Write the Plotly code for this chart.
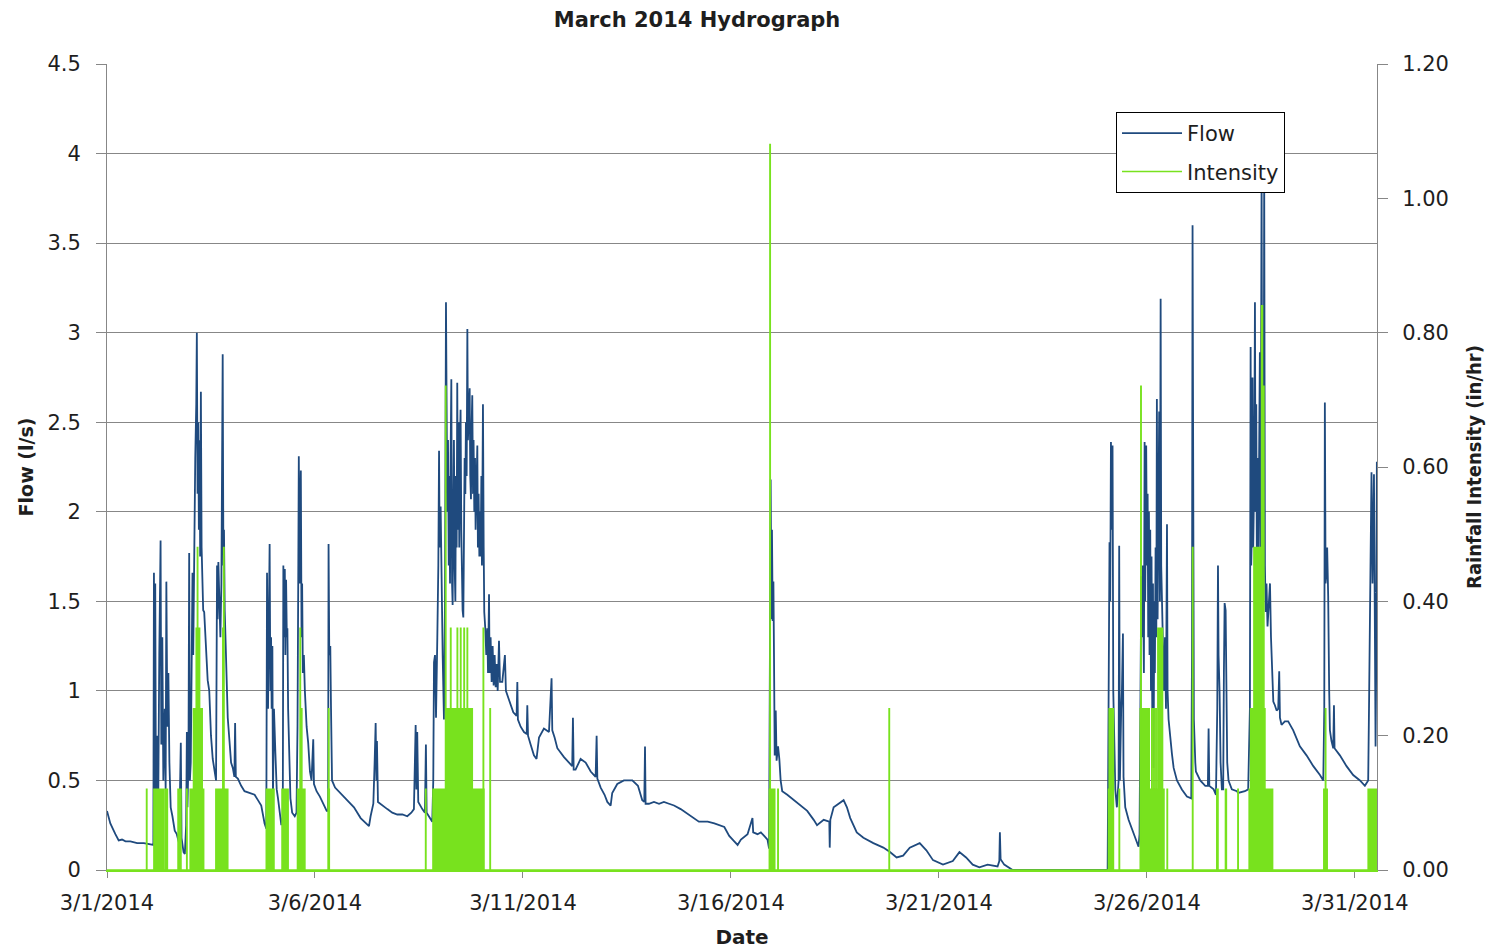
import pandas as pd
import plotly.graph_objects as go

# Flow record (l/s), March 2014
flow_time = [
    "03-01 00:00", "03-01 01:55", "03-01 04:50", "03-01 06:45", "03-01 08:40", "03-01 10:40", "03-01 13:30", "03-01 17:25",
    "03-01 21:15", "03-02 02:05", "03-02 02:45", "03-02 03:05", "03-02 03:30", "03-02 03:50", "03-02 04:15", "03-02 05:00",
    "03-02 05:35", "03-02 06:10", "03-02 06:55", "03-02 07:20", "03-02 07:55", "03-02 08:30", "03-02 09:20", "03-02 09:50",
    "03-02 10:15", "03-02 10:50", "03-02 11:25", "03-02 12:00", "03-02 12:45", "03-02 13:45", "03-02 15:05", "03-02 16:15",
    "03-02 17:35", "03-02 18:35", "03-02 19:00", "03-02 20:10", "03-02 20:55", "03-02 21:40", "03-02 22:05", "03-02 22:25",
    "03-02 23:00", "03-02 23:25", "03-02 23:50", "03-03 00:20", "03-03 00:45", "03-03 01:20", "03-03 01:45", "03-03 02:20",
    "03-03 02:55", "03-03 03:30", "03-03 03:50", "03-03 04:15", "03-03 04:40", "03-03 05:00", "03-03 05:25", "03-03 05:45",
    "03-03 06:10", "03-03 06:35", "03-03 07:10", "03-03 07:30", "03-03 08:05", "03-03 09:05", "03-03 10:05", "03-03 11:00",
    "03-03 12:00", "03-03 13:00", "03-03 13:55", "03-03 14:55", "03-03 15:30", "03-03 15:50", "03-03 16:15", "03-03 16:50",
    "03-03 17:25", "03-03 18:00", "03-03 18:20", "03-03 18:45", "03-03 19:10", "03-03 19:30", "03-03 19:55", "03-03 20:40",
    "03-03 21:40", "03-03 22:40", "03-03 23:35", "03-04 00:35", "03-04 01:30", "03-04 01:55", "03-04 02:20", "03-04 03:30",
    "03-04 05:25", "03-04 07:20", "03-04 10:15", "03-04 13:10", "03-04 15:05", "03-04 17:00", "03-04 18:55", "03-04 19:55",
    "03-04 20:20", "03-04 20:55", "03-04 21:30", "03-04 21:50", "03-04 22:15", "03-04 22:40", "03-04 23:00", "03-04 23:25",
    "03-04 23:45", "03-05 00:20", "03-05 01:10", "03-05 01:55", "03-05 02:40", "03-05 03:40", "03-05 04:35", "03-05 05:25",
    "03-05 05:45", "03-05 06:10", "03-05 06:35", "03-05 06:55", "03-05 07:20", "03-05 07:45", "03-05 08:05", "03-05 08:30",
    "03-05 09:05", "03-05 09:50", "03-05 10:50", "03-05 12:20", "03-05 13:20", "03-05 13:55", "03-05 14:20", "03-05 14:40",
    "03-05 15:05", "03-05 15:25", "03-05 15:50", "03-05 16:15", "03-05 16:35", "03-05 17:00", "03-05 17:35", "03-05 18:10",
    "03-05 19:10", "03-05 20:05", "03-05 21:05", "03-05 22:00", "03-05 23:00", "03-05 23:25", "03-06 00:55", "03-06 02:50",
    "03-06 04:50", "03-06 06:45", "03-06 07:35", "03-06 07:50", "03-06 08:15", "03-06 08:50", "03-06 09:15", "03-06 09:50",
    "03-06 11:35", "03-06 14:30", "03-06 18:40", "03-06 22:30", "03-07 02:20", "03-07 05:15", "03-07 07:10", "03-07 08:05",
    "03-07 09:40", "03-07 10:25", "03-07 11:00", "03-07 11:25", "03-07 11:45", "03-07 12:20", "03-07 14:50", "03-07 17:45",
    "03-07 20:35", "03-07 23:30", "03-08 02:25", "03-08 05:15", "03-08 07:35", "03-08 09:05", "03-08 10:05", "03-08 10:30",
    "03-08 11:00", "03-08 11:35", "03-08 13:55", "03-08 15:25", "03-08 16:00", "03-08 16:25", "03-08 18:20", "03-08 19:40",
    "03-08 20:15", "03-08 20:40", "03-08 21:15", "03-08 21:50", "03-08 22:35", "03-08 23:10", "03-08 23:35", "03-08 23:55",
    "03-09 00:30", "03-09 01:05", "03-09 01:40", "03-09 02:25", "03-09 03:00", "03-09 03:35", "03-09 04:00", "03-09 04:20",
    "03-09 04:45", "03-09 05:10", "03-09 05:30", "03-09 05:55", "03-09 06:15", "03-09 06:40", "03-09 07:05", "03-09 07:25",
    "03-09 07:50", "03-09 08:10", "03-09 08:35", "03-09 09:00", "03-09 09:20", "03-09 09:45", "03-09 10:05", "03-09 10:30",
    "03-09 10:55", "03-09 11:15", "03-09 11:40", "03-09 12:00", "03-09 12:25", "03-09 12:50", "03-09 13:10", "03-09 13:35",
    "03-09 14:00", "03-09 14:20", "03-09 14:45", "03-09 15:05", "03-09 15:30", "03-09 15:55", "03-09 16:15", "03-09 16:40",
    "03-09 17:15", "03-09 17:35", "03-09 18:00", "03-09 18:25", "03-09 18:45", "03-09 19:10", "03-09 19:30", "03-09 19:55",
    "03-09 20:20", "03-09 20:40", "03-09 21:05", "03-09 21:40", "03-09 22:00", "03-09 22:25", "03-09 22:50", "03-09 23:10",
    "03-09 23:35", "03-10 00:00", "03-10 00:20", "03-10 00:55", "03-10 01:20", "03-10 01:40", "03-10 02:15", "03-10 02:50",
    "03-10 03:25", "03-10 03:50", "03-10 04:25", "03-10 04:45", "03-10 05:20", "03-10 05:55", "03-10 06:30", "03-10 07:05",
    "03-10 07:40", "03-10 08:15", "03-10 08:50", "03-10 09:25", "03-10 10:10", "03-10 10:45", "03-10 12:05", "03-10 13:35",
    "03-10 14:10", "03-10 15:20", "03-10 16:55", "03-10 18:25", "03-10 20:20", "03-10 20:45", "03-10 21:05", "03-10 22:40",
    "03-11 00:35", "03-11 02:10", "03-11 02:30", "03-11 02:55", "03-11 04:25", "03-11 06:20", "03-11 07:50", "03-11 09:15",
    "03-11 12:05", "03-11 15:00", "03-11 16:30", "03-11 16:55", "03-11 18:15", "03-11 19:50", "03-11 23:40", "03-12 02:30",
    "03-12 04:25", "03-12 04:50", "03-12 05:15", "03-12 06:20", "03-12 09:15", "03-12 12:10", "03-12 15:05", "03-12 17:55",
    "03-12 18:30", "03-12 18:55", "03-12 20:50", "03-12 23:05", "03-13 00:40", "03-13 02:35", "03-13 03:30", "03-13 06:25",
    "03-13 10:15", "03-13 15:05", "03-13 18:20", "03-13 20:50", "03-13 22:00", "03-13 22:25", "03-13 22:45", "03-14 00:40",
    "03-14 03:35", "03-14 06:30", "03-14 09:20", "03-14 12:15", "03-14 15:10", "03-14 19:00", "03-14 21:50", "03-15 00:45",
    "03-15 05:30", "03-15 10:35", "03-15 14:25", "03-15 20:10", "03-15 23:00", "03-16 01:55", "03-16 03:50", "03-16 05:45",
    "03-16 09:35", "03-16 12:25", "03-16 12:50", "03-16 15:20", "03-16 17:15", "03-16 19:10", "03-16 21:05", "03-16 22:00",
    "03-16 22:55", "03-16 23:20", "03-16 23:40", "03-17 00:05", "03-17 00:30", "03-17 00:50", "03-17 01:15", "03-17 01:50",
    "03-17 02:20", "03-17 03:10", "03-17 03:55", "03-17 04:40", "03-17 05:35", "03-17 08:30", "03-17 12:20", "03-17 16:10",
    "03-17 20:00", "03-17 23:45", "03-18 01:40", "03-18 05:30", "03-18 08:45", "03-18 09:00", "03-18 09:20", "03-18 11:15",
    "03-18 15:05", "03-18 17:00", "03-18 18:55", "03-18 20:50", "03-19 00:35", "03-19 04:25", "03-19 10:10", "03-19 15:55",
    "03-19 19:45", "03-19 23:35", "03-20 03:20", "03-20 07:10", "03-20 12:55", "03-20 16:45", "03-20 20:35", "03-21 02:20",
    "03-21 08:00", "03-21 11:50", "03-21 15:40", "03-21 19:30", "03-21 23:20", "03-22 04:05", "03-22 09:50", "03-22 10:50",
    "03-22 11:10", "03-22 11:35", "03-22 13:40", "03-22 16:30", "03-22 18:30", "03-25 01:20", "03-25 01:30", "03-25 01:55",
    "03-25 02:25", "03-25 02:50", "03-25 03:15", "03-25 03:35", "03-25 04:10", "03-25 04:35", "03-25 05:10", "03-25 05:45",
    "03-25 06:40", "03-25 07:40", "03-25 08:00", "03-25 08:25", "03-25 09:10", "03-25 09:35", "03-25 10:10", "03-25 10:30",
    "03-25 11:30", "03-25 13:25", "03-25 15:20", "03-25 17:15", "03-25 19:10", "03-25 19:45", "03-25 20:20", "03-25 20:45",
    "03-25 21:05", "03-25 21:40", "03-25 22:15", "03-25 22:40", "03-25 23:00", "03-25 23:35", "03-26 00:00", "03-26 00:25",
    "03-26 00:45", "03-26 01:10", "03-26 01:30", "03-26 01:55", "03-26 02:20", "03-26 02:40", "03-26 03:05", "03-26 03:30",
    "03-26 03:50", "03-26 04:15", "03-26 04:35", "03-26 05:00", "03-26 05:25", "03-26 05:45", "03-26 06:10", "03-26 06:30",
    "03-26 07:05", "03-26 07:30", "03-26 07:55", "03-26 08:15", "03-26 08:40", "03-26 09:15", "03-26 09:50", "03-26 10:25",
    "03-26 11:00", "03-26 11:35", "03-26 11:55", "03-26 12:30", "03-26 13:30", "03-26 14:25", "03-26 15:25", "03-26 17:20",
    "03-26 20:10", "03-26 23:05", "03-27 01:35", "03-27 02:00", "03-27 02:20", "03-27 02:45", "03-27 03:05", "03-27 03:55",
    "03-27 04:15", "03-27 06:45", "03-27 09:40", "03-27 11:10", "03-27 11:35", "03-27 12:00", "03-27 14:30", "03-27 15:50",
    "03-27 16:35", "03-27 17:00", "03-27 17:20", "03-27 17:55", "03-27 18:30", "03-27 19:15", "03-27 20:00", "03-27 20:25",
    "03-27 20:50", "03-27 21:25", "03-27 21:45", "03-27 22:20", "03-27 23:05", "03-28 01:00", "03-28 03:55", "03-28 04:40",
    "03-28 08:30", "03-28 10:25", "03-28 11:25", "03-28 11:50", "03-28 12:10", "03-28 12:35", "03-28 12:55", "03-28 13:20",
    "03-28 13:55", "03-28 14:20", "03-28 14:40", "03-28 15:05", "03-28 15:25", "03-28 15:50", "03-28 16:15", "03-28 16:35",
    "03-28 17:10", "03-28 17:35", "03-28 18:10", "03-28 18:30", "03-28 18:55", "03-28 19:20", "03-28 19:40", "03-28 20:05",
    "03-28 20:30", "03-28 21:00", "03-28 21:35", "03-28 22:25", "03-28 23:00", "03-28 23:35", "03-29 00:05", "03-29 00:55",
    "03-29 01:50", "03-29 02:50", "03-29 03:45", "03-29 04:20", "03-29 04:45", "03-29 05:40", "03-29 07:35", "03-29 09:30",
    "03-29 12:25", "03-29 16:15", "03-29 20:05", "03-30 00:00", "03-30 03:50", "03-30 05:45", "03-30 06:20", "03-30 06:40",
    "03-30 07:05", "03-30 07:40", "03-30 08:00", "03-30 08:35", "03-30 09:10", "03-30 09:35", "03-30 10:30", "03-30 11:30",
    "03-30 11:55", "03-30 12:15", "03-30 15:20", "03-30 19:10", "03-30 23:00", "03-31 02:55", "03-31 05:45", "03-31 07:40",
    "03-31 08:15", "03-31 08:40", "03-31 09:00", "03-31 09:35", "03-31 10:10", "03-31 11:00", "03-31 11:35", "03-31 11:55",
    "03-31 12:20", "03-31 12:40",
]
flow_lps = [
    0.33, 0.26, 0.20, 0.165, 0.17, 0.16, 0.16, 0.15,
    0.15, 0.14, 0.14, 1.66, 0.45, 1.60, 0.35, 0.75,
    0.40, 1.20, 1.84, 0.70, 1.30, 0.50, 0.90, 0.45,
    1.61, 0.80, 1.10, 0.60, 0.35, 0.30, 0.22, 0.20,
    0.15, 0.71, 0.18, 0.10, 0.09, 0.25, 0.77, 0.35,
    0.60, 1.77, 0.50, 0.60, 1.00, 1.66, 1.20, 1.90,
    2.30, 2.60, 3.00, 2.10, 2.50, 1.90, 2.40, 1.75,
    2.67, 1.80, 1.60, 1.45, 1.44, 1.20, 1.06, 1.00,
    0.75, 0.62, 0.55, 0.50, 1.70, 1.40, 1.72, 1.50,
    1.30, 1.60, 2.00, 2.88, 1.70, 1.90, 1.45, 1.13,
    0.85, 0.72, 0.60, 0.57, 0.52, 0.82, 0.52, 0.51,
    0.47, 0.44, 0.43, 0.42, 0.39, 0.36, 0.26, 0.23,
    1.66, 0.90, 1.50, 1.82, 1.00, 1.30, 0.90, 1.25,
    0.40, 0.90, 0.65, 0.45, 0.40, 0.30, 0.25, 0.30,
    1.70, 1.30, 1.68, 1.20, 1.62, 1.30, 1.35, 0.90,
    0.60, 0.40, 0.32, 0.30, 0.32, 0.80, 1.60, 2.31,
    1.60, 1.90, 2.23, 1.30, 1.60, 1.10, 1.20, 1.00,
    0.80, 0.71, 0.55, 0.50, 0.73, 0.48, 0.44, 0.41,
    0.37, 0.33, 0.33, 1.82, 1.20, 1.25, 0.90, 0.50,
    0.46, 0.43, 0.39, 0.35, 0.29, 0.26, 0.245, 0.30,
    0.37, 0.60, 0.82, 0.50, 0.72, 0.38, 0.36, 0.34,
    0.32, 0.31, 0.31, 0.30, 0.32, 0.34, 0.81, 0.45,
    0.77, 0.38, 0.34, 0.32, 0.70, 0.32, 0.29, 0.27,
    0.50, 1.16, 1.20, 0.85, 1.30, 1.70, 2.34, 1.80,
    2.03, 1.50, 1.20, 0.84, 1.50, 3.17, 2.70, 2.00,
    2.40, 1.70, 2.20, 1.60, 2.30, 2.74, 1.60, 1.48,
    2.00, 2.40, 1.70, 1.50, 2.20, 1.80, 2.72, 1.90,
    2.50, 1.80, 2.40, 2.57, 1.90, 1.60, 1.45, 1.41,
    2.00, 2.30, 2.10, 2.50, 2.20, 3.02, 2.40, 2.60,
    2.69, 2.20, 2.07, 2.50, 2.65, 2.10, 2.40, 2.00,
    2.30, 1.90, 2.20, 2.37, 1.80, 2.10, 1.75, 2.00,
    1.75, 2.20, 1.70, 2.60, 1.80, 1.44, 1.35, 1.20,
    1.35, 1.10, 1.54, 1.10, 1.30, 1.05, 1.25, 1.03,
    1.20, 1.02, 1.15, 1.00, 1.28, 1.05, 1.05, 1.20,
    1.00, 0.97, 0.93, 0.88, 0.86, 1.05, 0.84, 0.80,
    0.77, 0.76, 0.92, 0.75, 0.70, 0.64, 0.62, 0.74,
    0.79, 0.77, 1.07, 0.78, 0.74, 0.68, 0.63, 0.60,
    0.58, 0.85, 0.56, 0.56, 0.62, 0.60, 0.55, 0.52,
    0.75, 0.51, 0.46, 0.42, 0.38, 0.36, 0.43, 0.48,
    0.50, 0.50, 0.47, 0.39, 0.38, 0.69, 0.37, 0.37,
    0.38, 0.37, 0.38, 0.37, 0.36, 0.34, 0.32, 0.30,
    0.27, 0.27, 0.26, 0.24, 0.19, 0.16, 0.14, 0.17,
    0.20, 0.29, 0.21, 0.20, 0.21, 0.19, 0.17, 0.12,
    2.18, 1.40, 1.90, 1.39, 1.61, 1.20, 0.64, 0.89,
    0.61, 0.69, 0.62, 0.50, 0.44, 0.42, 0.39, 0.36,
    0.33, 0.28, 0.25, 0.28, 0.27, 0.125, 0.28, 0.35,
    0.375, 0.39, 0.35, 0.29, 0.21, 0.18, 0.15, 0.125,
    0.10, 0.07, 0.08, 0.125, 0.15, 0.11, 0.055, 0.03,
    0.05, 0.10, 0.07, 0.03, 0.015, 0.03, 0.02, 0.05,
    0.21, 0.06, 0.03, 0.01, 0.0, 0.0, 0.45, 1.60,
    1.83, 1.50, 2.39, 1.90, 2.37, 1.00, 0.60, 0.45,
    0.35, 0.50, 1.81, 0.50, 0.90, 1.00, 1.32, 0.52,
    0.35, 0.28, 0.23, 0.18, 0.13, 0.20, 1.10, 1.64,
    1.30, 1.70, 1.10, 2.39, 1.50, 2.37, 1.70, 2.10,
    1.30, 2.00, 1.20, 1.90, 1.00, 1.75, 0.90, 1.60,
    0.57, 1.50, 1.10, 1.80, 1.30, 2.63, 1.40, 2.00,
    2.56, 1.50, 3.19, 1.70, 1.50, 1.30, 1.00, 1.30,
    0.90, 1.93, 1.00, 0.84, 0.72, 0.65, 0.57, 0.50,
    0.45, 0.41, 0.40, 1.20, 3.60, 1.40, 0.84, 0.60,
    0.55, 0.50, 0.47, 0.47, 0.79, 0.47, 0.45, 0.42,
    0.90, 1.70, 1.20, 1.00, 0.60, 0.45, 0.45, 1.10,
    1.49, 1.45, 1.10, 0.60, 0.50, 0.45, 0.44, 0.43,
    0.44, 0.45, 0.90, 2.92, 1.70, 1.90, 2.75, 1.80,
    2.20, 3.17, 2.00, 2.60, 1.75, 2.30, 1.65, 2.40,
    2.89, 1.80, 3.90, 2.20, 1.50, 2.00, 3.90, 1.70,
    1.44, 1.60, 1.36, 1.50, 1.60, 1.30, 1.15, 0.94,
    0.92, 0.89, 0.90, 1.11, 0.85, 0.81, 0.83, 0.83,
    0.78, 0.69, 0.64, 0.58, 0.53, 0.50, 0.90, 2.61,
    1.60, 1.67, 1.80, 1.53, 1.00, 0.78, 0.72, 0.68,
    0.92, 0.68, 0.64, 0.58, 0.53, 0.50, 0.47, 0.50,
    1.00, 1.61, 1.70, 2.22, 1.60, 2.21, 1.10, 0.69,
    1.20, 2.28,
]

# Rainfall intensity (in/hr) as a step series: each value holds until the next time
rain_time = [
    "03-01 00:00", "03-01 22:50", "03-01 23:00", "03-02 03:05", "03-02 04:15", "03-02 05:00", "03-02 05:10", "03-02 06:00",
    "03-02 06:35", "03-02 07:20", "03-02 08:30", "03-02 09:30", "03-02 09:40", "03-02 10:00", "03-02 10:50", "03-02 17:00",
    "03-02 18:40", "03-02 22:00", "03-02 22:10", "03-03 00:00", "03-03 01:55", "03-03 03:30", "03-03 04:10", "03-03 04:20",
    "03-03 05:25", "03-03 06:55", "03-03 07:45", "03-03 14:50", "03-03 18:50", "03-03 19:00", "03-03 19:20", "03-03 19:30",
    "03-03 21:40", "03-04 19:55", "03-05 00:20", "03-05 05:00", "03-05 08:30", "03-05 13:55", "03-05 15:25", "03-05 15:35",
    "03-05 16:15", "03-05 16:25", "03-05 18:10", "03-06 07:35", "03-06 07:50", "03-06 08:00", "03-06 08:15", "03-08 15:50",
    "03-08 16:00", "03-08 20:05", "03-09 03:20", "03-09 03:30", "03-09 06:15", "03-09 06:25", "03-09 10:05", "03-09 10:15",
    "03-09 12:00", "03-09 12:10", "03-09 14:00", "03-09 14:10", "03-09 15:50", "03-09 16:00", "03-09 18:45", "03-10 01:05",
    "03-10 01:15", "03-10 01:30", "03-10 05:00", "03-10 05:10", "03-16 22:10", "03-16 22:30", "03-16 22:40", "03-17 01:15",
    "03-17 03:05", "03-17 03:15", "03-19 19:15", "03-19 19:25", "03-25 01:50", "03-25 02:15", "03-25 04:40", "03-25 08:00",
    "03-25 08:10", "03-25 20:10", "03-25 20:30", "03-25 20:40", "03-26 01:20", "03-26 02:50", "03-26 03:00", "03-26 04:00",
    "03-26 04:10", "03-26 05:10", "03-26 05:20", "03-26 06:20", "03-26 09:00", "03-26 09:50", "03-26 11:40", "03-26 11:50",
    "03-27 02:20", "03-27 02:30", "03-27 16:20", "03-27 17:00", "03-27 21:20", "03-27 21:50", "03-28 04:30", "03-28 04:40",
    "03-28 11:00", "03-28 11:50", "03-28 13:45", "03-28 18:10", "03-28 18:40", "03-28 19:05", "03-28 19:30", "03-28 20:05",
    "03-29 00:30", "03-30 06:05", "03-30 07:00", "03-30 07:10", "03-30 08:00", "03-31 07:40", "03-31 12:45",
]
rain_inhr = [
    0.00, 0.12, 0.00, 0.12, 0.00, 0.12, 0.00, 0.12,
    0.00, 0.12, 0.00, 0.12, 0.00, 0.12, 0.00, 0.12,
    0.00, 0.12, 0.00, 0.12, 0.24, 0.36, 0.48, 0.36,
    0.24, 0.12, 0.00, 0.12, 0.36, 0.12, 0.48, 0.12,
    0.00, 0.12, 0.00, 0.12, 0.00, 0.12, 0.36, 0.12,
    0.24, 0.12, 0.00, 0.12, 0.24, 0.12, 0.00, 0.12,
    0.00, 0.12, 0.72, 0.24, 0.36, 0.24, 0.36, 0.24,
    0.36, 0.24, 0.36, 0.24, 0.36, 0.24, 0.12, 0.36,
    0.12, 0.00, 0.24, 0.00, 0.12, 1.08, 0.12, 0.00,
    0.12, 0.00, 0.24, 0.00, 0.12, 0.24, 0.00, 0.12,
    0.00, 0.24, 0.72, 0.24, 0.12, 0.24, 0.12, 0.24,
    0.12, 0.24, 0.12, 0.36, 0.12, 0.00, 0.12, 0.00,
    0.48, 0.00, 0.12, 0.00, 0.12, 0.00, 0.12, 0.00,
    0.12, 0.24, 0.48, 0.84, 0.48, 0.72, 0.24, 0.12,
    0.00, 0.12, 0.24, 0.12, 0.00, 0.12, 0.12,
]

assert len(flow_time) == len(flow_lps)
assert len(rain_time) == len(rain_inhr)

flow_dt = pd.to_datetime(["2014-" + s for s in flow_time])
rain_dt = pd.to_datetime(["2014-" + s for s in rain_time])

FLOW_COLOR = "#1F4A7E"
RAIN_COLOR = "#78E21E"
GRID_COLOR = "#878787"
TEXT_COLOR = "#1E1E1E"
BASE_FONT = "DejaVu Sans, Verdana, sans-serif"

fig = go.Figure()

fig.add_trace(go.Scatter(
    x=flow_dt, y=flow_lps, name="Flow", mode="lines",
    line=dict(color=FLOW_COLOR, width=1.8),
    legendgroup="flow", yaxis="y",
))

# Rain blocks: filled step area under the intensity series
fig.add_trace(go.Scatter(
    x=rain_dt, y=rain_inhr, mode="none", fill="tozeroy",
    fillcolor=RAIN_COLOR, line=dict(shape="hv"),
    showlegend=False, legendgroup="rain", yaxis="y2", hoverinfo="skip",
))
fig.add_trace(go.Scatter(
    x=rain_dt, y=rain_inhr, name="Intensity", mode="lines",
    line=dict(color=RAIN_COLOR, width=1.6, shape="hv"),
    legendgroup="rain", yaxis="y2",
))

fig.update_layout(
    width=1490, height=951,
    margin=dict(l=107, r=113, t=64, b=81, autoexpand=False),
    paper_bgcolor="white", plot_bgcolor="white",
    font=dict(family=BASE_FONT, size=21, color=TEXT_COLOR),
    title=dict(
        text="<b>March 2014 Hydrograph</b>",
        font=dict(family=BASE_FONT, size=21, color=TEXT_COLOR),
        x=0.4646, xref="paper", xanchor="center",
        y=0.979, yref="container", yanchor="middle",
    ),
    showlegend=True,
    legend=dict(
        x=0.7945, y=0.9404, xanchor="left", yanchor="top",
        bgcolor="white", bordercolor="black", borderwidth=1,
        font=dict(family=BASE_FONT, size=21, color=TEXT_COLOR),
        traceorder="grouped", tracegroupgap=8, itemwidth=60,
    ),
    xaxis=dict(
        type="date", automargin=False,
        range=["2014-03-01 00:00", "2014-03-31 12:45"],
        tick0="2014-03-01", dtick=5 * 86400000,
        tickformat="%-m/%-d/%Y",
        ticks="outside", ticklen=6, tickcolor=GRID_COLOR,
        ticklabelstandoff=7,
        # the zero-intensity line runs along the bottom of the plot
        showline=True, linecolor=RAIN_COLOR, linewidth=2,
        showgrid=False, zeroline=False,
        title=dict(text="<b>Date</b>", font=dict(family=BASE_FONT, size=20), standoff=16),
    ),
    yaxis=dict(
        automargin=False,
        range=[0, 4.5], dtick=0.5, tick0=0,
        ticks="outside", ticklen=10, tickcolor=GRID_COLOR,
        ticklabelstandoff=11,
        showline=True, linecolor=GRID_COLOR, linewidth=1,
        showgrid=True, gridcolor=GRID_COLOR, gridwidth=1,
        zeroline=False,
        title=dict(text="<b>Flow (l/s)</b>", font=dict(family=BASE_FONT, size=19), standoff=8),
    ),
    yaxis2=dict(
        automargin=False,
        overlaying="y", side="right",
        range=[0, 1.2], dtick=0.2, tick0=0, tickformat=".2f",
        ticks="outside", ticklen=10, tickcolor=GRID_COLOR,
        ticklabelstandoff=10,
        showline=True, linecolor=GRID_COLOR, linewidth=1,
        showgrid=False, zeroline=False,
        title=dict(
            text="<b>Rainfall Intensity (in/hr)</b>",
            font=dict(family="Liberation Sans Narrow, DejaVu Sans Condensed, Arial Narrow, sans-serif", size=20),
            standoff=19,
        ),
    ),
)

fig.write_html("out.html")
